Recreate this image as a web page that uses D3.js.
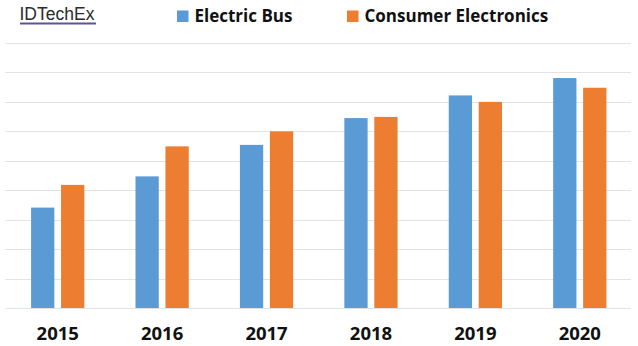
<!DOCTYPE html>
<html>
<head>
<meta charset="utf-8">
<script src="https://cdn.jsdelivr.net/npm/d3@7"></script>
<style>
  body { margin: 0; background: #fff; }
</style>
</head>
<body>
<div id="chart"></div>
<script>
var width = 638;
var height = 346;

// Data
var years = ["2015", "2016", "2017", "2018", "2019", "2020"];
var series = ["Electric Bus", "Consumer Electronics"];
var electricBus = [3.41, 4.47, 5.54, 6.45, 7.22, 7.81];
var consumerElectronics = [4.18, 5.49, 6.0, 6.49, 7.0, 7.48];
var gridTicks = [0, 1, 2, 3, 4, 5, 6, 7, 8, 9];
var colours = ["#5b9bd5", "#ed7d31"];

var svg = d3.select("#chart")
    .append("svg")
    .attr("width", width)
    .attr("height", height);

var x0 = d3.scaleBand()
    .domain(years)
    .range([5.5, 632])
    .paddingInner(0.49)
    .paddingOuter(0.245);

var x1 = d3.scaleBand()
    .domain(series)
    .range([0, x0.bandwidth()])
    .paddingInner(0.223);

var y = d3.scaleLinear()
    .domain([0, 9])
    .range([308, 43]);

// Gridlines
svg.append("g")
    .selectAll("line")
    .data(gridTicks)
    .enter()
    .append("line")
    .attr("x1", 5)
    .attr("x2", 631)
    .attr("y1", d => Math.round(y(d)) + 0.5)
    .attr("y2", d => Math.round(y(d)) + 0.5)
    .style("stroke", "#e3e3e3")
    .style("stroke-width", 1);

// Bars
var rows = years.map((yr, i) => ({ year: yr, values: [electricBus[i], consumerElectronics[i]] }));

var groups = svg.append("g")
    .selectAll("g")
    .data(rows)
    .enter()
    .append("g")
    .attr("transform", d => "translate(" + x0(d.year) + ",0)");

groups.selectAll("rect")
    .data(d => d.values.map((v, j) => ({ key: series[j], value: v, colour: colours[j] })))
    .enter()
    .append("rect")
    .attr("x", d => x1(d.key))
    .attr("width", x1.bandwidth())
    .attr("y", d => y(d.value))
    .attr("height", d => y(0) - y(d.value))
    .style("fill", d => d.colour);

// Year labels
var xAxis = d3.axisBottom(x0).tickSize(0).tickPadding(0);
svg.append("g")
    .attr("transform", "translate(0,327)")
    .call(xAxis)
    .call(g => g.select(".domain").remove())
    .selectAll("text")
    .style("font-family", "'Open Sans', sans-serif")
    .style("font-weight", "bold")
    .style("font-size", "18.5px")
    .style("fill", "#111");

// Legend
var legendX = [177, 347];
var legend = svg.append("g")
    .selectAll("g")
    .data(series)
    .enter()
    .append("g")
    .attr("transform", (d, i) => "translate(" + legendX[i] + ",0)");

legend.append("rect")
    .attr("x", 0)
    .attr("y", 10.5)
    .attr("width", 11.5)
    .attr("height", 11.5)
    .style("fill", (d, i) => colours[i]);

legend.append("text")
    .attr("x", 17.5)
    .attr("y", 22)
    .text(d => d)
    .style("font-family", "'Open Sans', sans-serif")
    .style("font-weight", "bold")
    .style("font-size", "17px")
    .style("fill", "#111");

// Logo
svg.append("text")
    .attr("x", 19.5)
    .attr("y", 19.5)
    .text("IDTechEx")
    .style("font-family", "'Liberation Sans', Arial, sans-serif")
    .style("font-size", "17.5px")
    .style("fill", "#2b2b2b");

svg.append("line")
    .attr("x1", 20)
    .attr("x2", 96)
    .attr("y1", 23.5)
    .attr("y2", 23.5)
    .style("stroke", "#5e5494")
    .style("stroke-width", 2);
</script>
</body>
</html>
